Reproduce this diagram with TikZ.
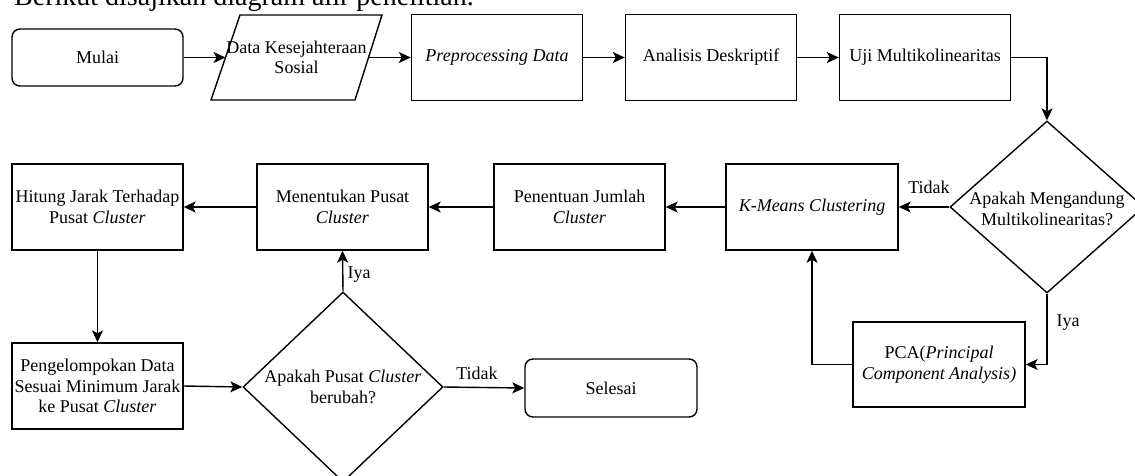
\documentclass[tikz,border=0pt]{standalone}
\usepackage{fontspec}
\setmainfont{Liberation Serif}
\usetikzlibrary{shapes.geometric,arrows.meta,calc}
\newcommand\dtxt{\fontsize{18}{20.5}\selectfont}
\begin{document}
\begin{tikzpicture}[x=1pt,y=-1pt,
  line/.style={line width=1.4pt, black},
  box/.style={draw, line, minimum width=171pt, minimum height=86pt, inner sep=2pt, align=center, font=\dtxt},
  term/.style={box, rounded corners=8pt, minimum height=57pt},
  dia/.style={draw, line, diamond, inner sep=0pt},
  txtnode/.style={align=center, font=\dtxt, inner sep=1pt},
  lbl/.style={font=\dtxt, inner sep=1pt},
  arr/.style={line, -{Stealth[length=12pt,width=11pt,inset=3pt]}}
]
\path[use as bounding box, clip] (0,0) rectangle (1135,475);
\node[anchor=base west, font=\fontsize{28}{30}\selectfont, inner sep=0pt] (title) at (14,5) {Berikut disajikan diagram alir penelitian.};

% top row
\node[term] (mulai) at (97.5,57.5) {Mulai};
\node[txtnode] (data) at (296.5,57.5) {Data Kesejahteraan\\Sosial};
\draw[line] (240,15) -- (382,15) -- (355,100) -- (211,100) -- cycle;
\coordinate (dataW) at (225.5,57.5);
\coordinate (dataE) at (368.5,57.5);
\node[box] (prep) at (497,57.5) {\textit{Preprocessing Data}};
\node[box] (anal) at (711,57.5) {Analisis Deskriptif};
\node[box] (uji) at (925,57.5) {Uji Multikolinearitas};

% decision 1
\node[dia, minimum width=194pt, minimum height=172pt] (d1) at (1047,207) {};
\node[txtnode] (d1t) at (1047,209) {Apakah Mengandung\\Multikolinearitas?};

% middle row
\node[box, minimum width=172pt] (kmeans) at (812,207) {\textit{K-Means Clustering}};
\node[box] (penentuan) at (579.5,207) {Penentuan Jumlah\\\textit{Cluster}};
\node[box] (menentukan) at (342.5,207) {Menentukan Pusat\\\textit{Cluster}};
\node[box] (hitung) at (97.5,207) {Hitung Jarak Terhadap\\Pusat \textit{Cluster}};

% bottom row
\node[box] (kelompok) at (97.5,386) {Pengelompokan Data\\Sesuai Minimum Jarak\\ke Pusat \textit{Cluster}};
\node[dia, minimum width=200pt, minimum height=190pt] (d2) at (343,387) {};
\node[txtnode] (d2t) at (343,387) {Apakah Pusat \textit{Cluster}\\berubah?};
\node[term, minimum width=172pt, minimum height=58pt] (selesai) at (611,388) {Selesai};
\node[box, minimum width=172pt, minimum height=85pt] (pca) at (939,364.5) {PCA(\textit{Principal}\\\textit{Component Analysis)}};

% connectors
\draw[arr] (mulai.east) -- (dataW);
\draw[arr] (dataE) -- (prep.west);
\draw[arr] (prep) -- (anal);
\draw[arr] (anal) -- (uji);
\draw[arr] (uji.east) -| (d1.north);
\draw[arr] (d1.west) -- (kmeans.east);
\node[lbl] (tidak1) at (929,187) {Tidak};
\draw[arr] (kmeans) -- (penentuan);
\draw[arr] (penentuan) -- (menentukan);
\draw[arr] (menentukan) -- (hitung);
\draw[arr] (hitung) -- (kelompok);
\draw[arr] (kelompok.east) -- (d2.west);
\draw[arr] (d2.north) -- (menentukan.south);
\node[lbl] (iya2) at (359,275) {Iya};
\draw[arr] (d2.east) -- (selesai.west);
\node[lbl] (tidak2) at (477,373) {Tidak};
\draw[arr] (d1.south) |- (pca.east);
\node[lbl] (iya1) at (1068,323) {Iya};
\draw[arr] (pca.west) -| (kmeans.south);
\end{tikzpicture}
\end{document}
